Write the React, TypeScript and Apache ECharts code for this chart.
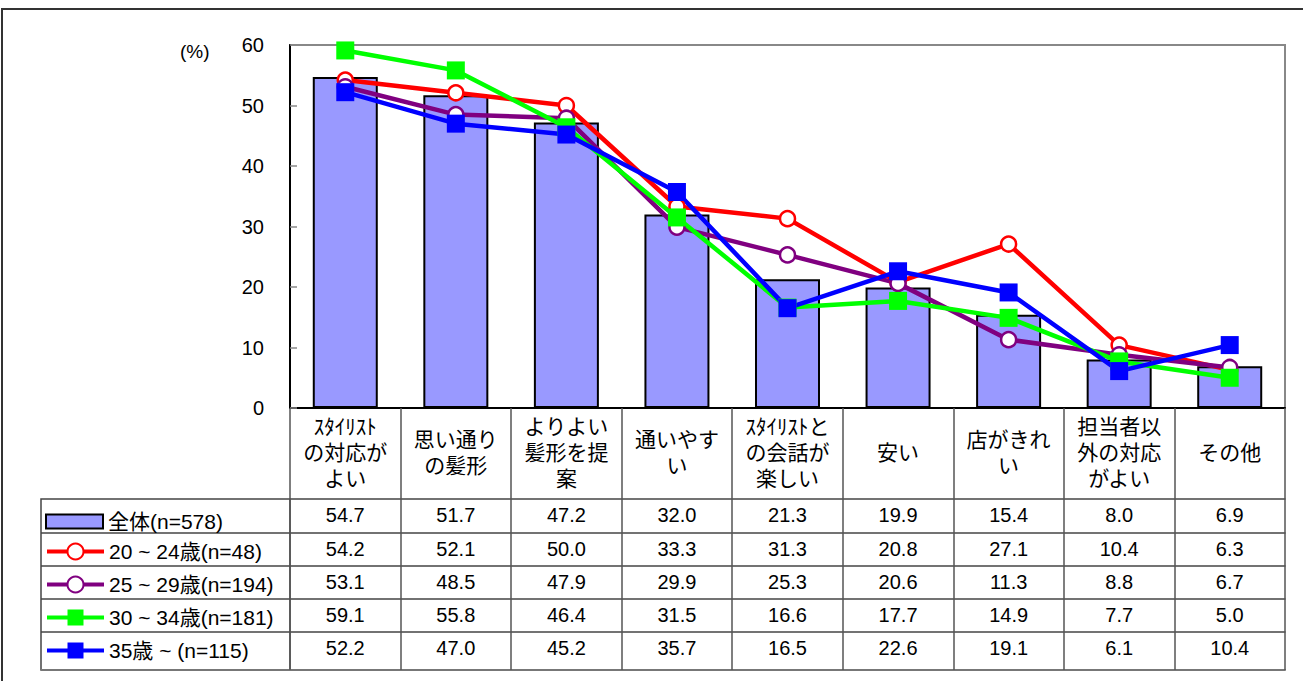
import React, { useEffect, useRef } from "react";
import * as echarts from "echarts";

// ---- data ----
const categories = [
  "ｽﾀｲﾘｽﾄ\nの対応が\nよい",
  "思い通り\nの髪形",
  "よりよい\n髪形を提\n案",
  "通いやす\nい",
  "ｽﾀｲﾘｽﾄと\nの会話が\n楽しい",
  "安い",
  "店がきれ\nい",
  "担当者以\n外の対応\nがよい",
  "その他",
];
const seriesNames = [
  "全体(n=578)",
  "20 ~ 24歳(n=48)",
  "25 ~ 29歳(n=194)",
  "30 ~ 34歳(n=181)",
  "35歳 ~ (n=115)",
];
const totalValues = [54.7, 51.7, 47.2, 32.0, 21.3, 19.9, 15.4, 8.0, 6.9];
const age20to24 = [54.2, 52.1, 50.0, 33.3, 31.3, 20.8, 27.1, 10.4, 6.3];
const age25to29 = [53.1, 48.5, 47.9, 29.9, 25.3, 20.6, 11.3, 8.8, 6.7];
const age30to34 = [59.1, 55.8, 46.4, 31.5, 16.6, 17.7, 14.9, 7.7, 5.0];
const age35plus = [52.2, 47.0, 45.2, 35.7, 16.5, 22.6, 19.1, 6.1, 10.4];
const yMin = 0;
const yMax = 60;
const yStep = 10;
const unitLabel = "(%)";

const tableRows = [totalValues, age20to24, age25to29, age30to34, age35plus];

// ---- layout ----
const W = 1303;
const H = 681;
const plotLeft = 290;
const plotRight = 1285;
const plotTop = 45;
const plotBottom = 408;
const rowBounds = [499, 533, 566, 599, 632, 670];
const legendCenters = [518, 551, 584, 617, 650];
const tableLeft = 41;
const FONT = "'Liberation Sans', 'Noto Sans CJK JP', sans-serif";

const lineColors = ["#FF0000", "#800080", "#00FF00", "#0000FF"];
const lineData = [age20to24, age25to29, age30to34, age35plus];
const lineSymbols = ["circle", "circle", "rect", "rect"];

export default function App() {
  const ref = useRef<HTMLDivElement>(null);
  useEffect(() => {
    if (!ref.current) return;
    const chart = echarts.init(ref.current, undefined, { renderer: "svg" });

    const xAxes: any[] = [
      {
        type: "category",
        gridIndex: 0,
        position: "bottom",
        data: categories,
        axisLine: { show: true, lineStyle: { color: "#000", width: 2 } },
        axisTick: { show: true, interval: 0, length: rowBounds[0] - plotBottom, lineStyle: { color: "#555", width: 1.5 } },
        axisLabel: {
          interval: 0,
          margin: 44,
          verticalAlign: "middle",
          lineHeight: 26,
          fontSize: 21,
          color: "#000",
          fontFamily: FONT,
        },
      },
    ];
    tableRows.forEach((vals, i) => {
      xAxes.push({
        type: "category",
        gridIndex: 0,
        position: "bottom",
        offset: rowBounds[i] - plotBottom,
        data: categories,
        axisLine: { show: true, lineStyle: { color: "#444", width: 1.5 } },
        axisTick: { show: true, interval: 0, length: rowBounds[i + 1] - rowBounds[i], lineStyle: { color: "#555", width: 1.5 } },
        axisLabel: {
          interval: 0,
          margin: 16,
          verticalAlign: "middle",
          fontSize: 20,
          color: "#000",
          fontFamily: FONT,
          formatter: (_v: string, idx: number) => vals[idx].toFixed(1),
        },
      });
    });
    xAxes.push({
      type: "category",
      gridIndex: 0,
      position: "bottom",
      offset: rowBounds[5] - plotBottom,
      data: categories,
      axisLine: { show: true, lineStyle: { color: "#777", width: 2 } },
      axisTick: { show: false },
      axisLabel: { show: false },
    });

    const legends: any[] = seriesNames.map((name, i) => {
      const ih = i === 0 ? 14 : 20;
      return {
        data: [i === 0 ? { name, icon: "rect" } : { name }],
        left: 45,
        top: legendCenters[i] - ih / 2,
        orient: "horizontal",
        itemWidth: 57,
        itemHeight: ih,
        padding: 0,
        itemGap: 0,
        selectedMode: false,
        lineStyle: { width: 4 },
        textStyle: { fontSize: 21, color: "#000", fontFamily: FONT },
      };
    });

    const legendLines: any[] = rowBounds.slice(1, 5).map((y) => ({
      type: "line",
      shape: { x1: tableLeft, y1: y, x2: plotLeft, y2: y },
      style: { stroke: "#444", lineWidth: 1.5 },
    }));

    const option: any = {
      animation: false,
      backgroundColor: "#fff",
      textStyle: { fontFamily: FONT },
      grid: {
        left: plotLeft,
        right: W - plotRight,
        top: plotTop,
        bottom: H - plotBottom,
        show: true,
        borderColor: "#888",
        borderWidth: 2,
        containLabel: false,
        outerBoundsMode: "none",
      },
      legend: legends,
      xAxis: xAxes,
      yAxis: {
        type: "value",
        min: yMin,
        max: yMax,
        interval: yStep,
        axisLine: { show: true, lineStyle: { color: "#000", width: 2 } },
        axisTick: { show: true, inside: true, length: 7, lineStyle: { color: "#888", width: 1.5 } },
        splitLine: { show: false },
        axisLabel: { fontSize: 20, margin: 26, color: "#000", fontFamily: FONT },
      },
      graphic: [
        {
          type: "rect",
          silent: true,
          shape: { x: 2, y: 9, width: 1400, height: 800 },
          style: { fill: "none", stroke: "#333", lineWidth: 2 },
        },
        {
          type: "text",
          x: 180,
          y: 42,
          style: { text: unitLabel, fontSize: 19, fill: "#000", fontFamily: FONT },
        },
        {
          type: "rect",
          shape: { x: tableLeft, y: rowBounds[0], width: plotLeft - tableLeft, height: rowBounds[5] - rowBounds[0] },
          style: { fill: "none", stroke: "#444", lineWidth: 1.5 },
        },
        {
          type: "line",
          shape: { x1: tableLeft, y1: rowBounds[5], x2: plotLeft, y2: rowBounds[5] },
          style: { stroke: "#777", lineWidth: 2 },
        },
        ...legendLines,
      ],
      series: [
        {
          name: seriesNames[0],
          type: "bar",
          xAxisIndex: 0,
          data: totalValues,
          barWidth: 65,
          itemStyle: { color: "#9999FF", borderColor: "#000", borderWidth: 2 },
        },
        ...lineData.map((d, i) => ({
          name: seriesNames[i + 1],
          type: "line",
          xAxisIndex: 0,
          data: d,
          symbol: lineSymbols[i],
          symbolSize: lineSymbols[i] === "circle" ? 15 : 18,
          showAllSymbol: true,
          lineStyle: { color: lineColors[i], width: 4.5 },
          itemStyle:
            lineSymbols[i] === "circle"
              ? { color: "#fff", borderColor: lineColors[i], borderWidth: 2.5 }
              : { color: lineColors[i], borderWidth: 0 },
        })),
      ],
    };
    chart.setOption(option);
    return () => chart.dispose();
  }, []);
  return (
    <div
      ref={ref}
      style={{ position: "absolute", left: 0, top: 0, width: W, height: H }}
    />
  );
}
